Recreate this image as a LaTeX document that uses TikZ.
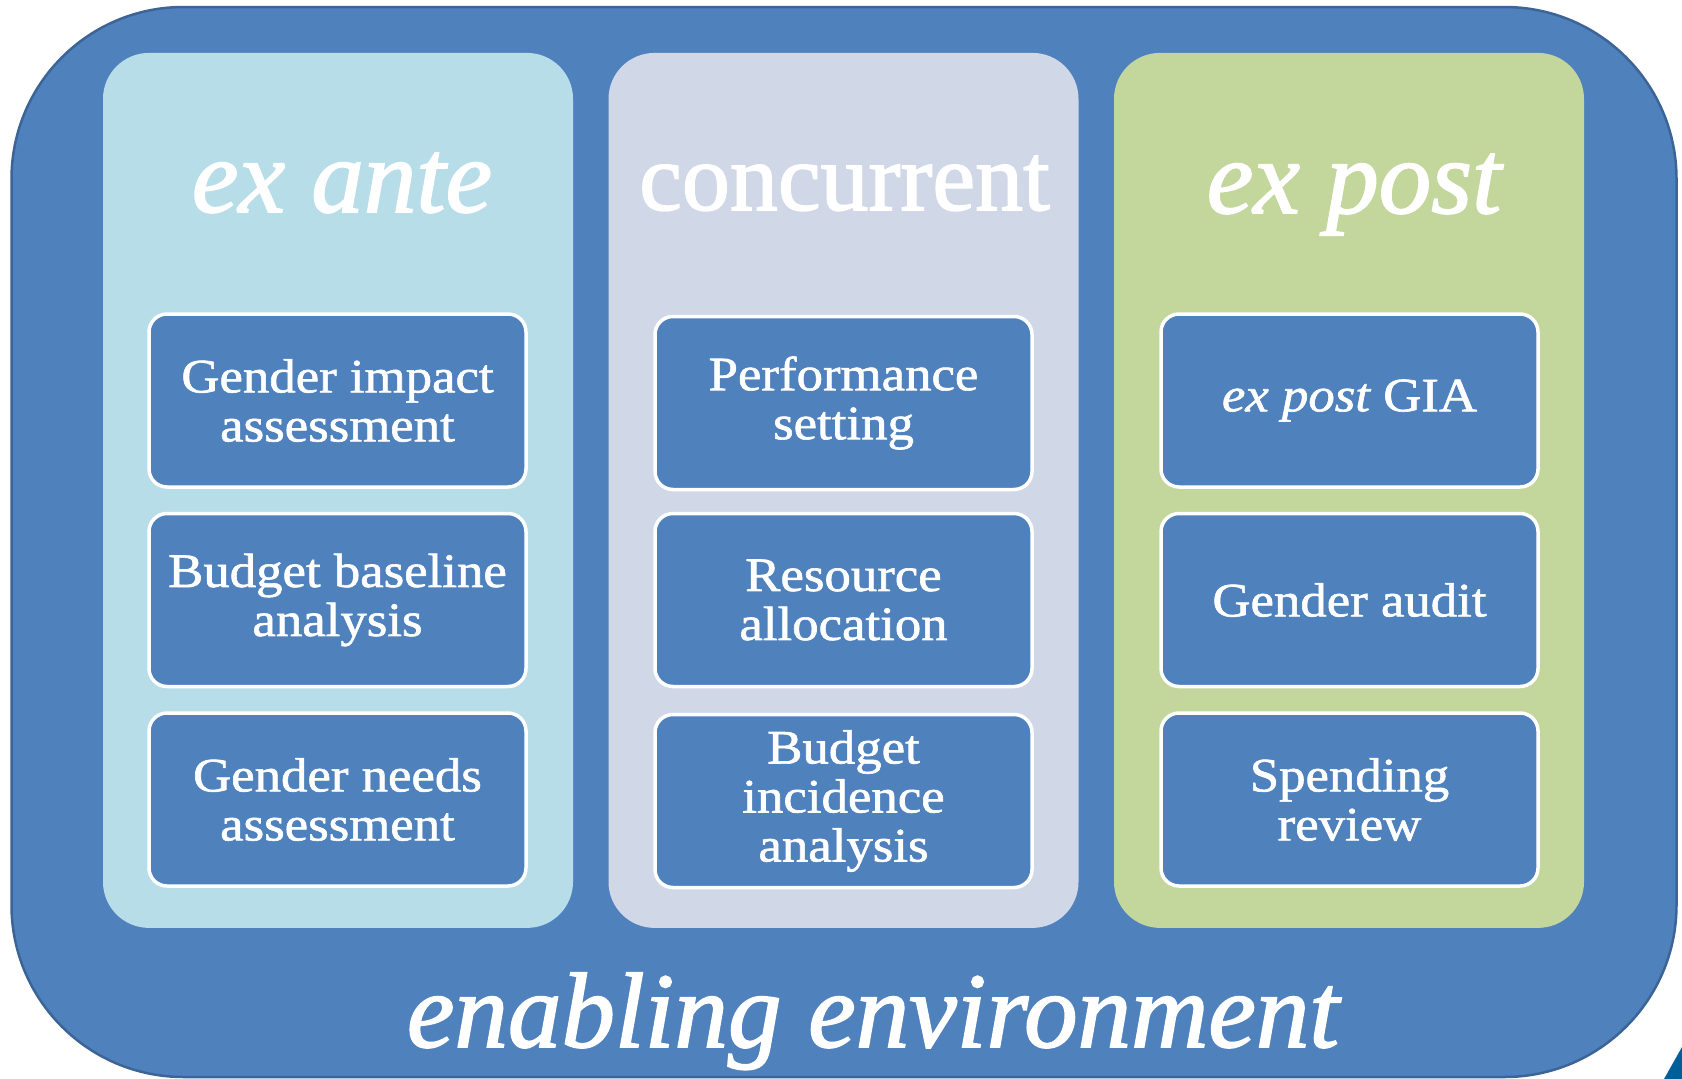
\documentclass[tikz,border=0pt]{standalone}
\usepackage{fontspec}
\setmainfont{Liberation Serif}
\newfontfamily\boxfont{Liberation Serif}[FakeStretch=1.1,FakeBold=1.3]
\newfontfamily\titlefont{Liberation Serif}[FakeBold=1.6]
\definecolor{mainblue}{HTML}{4F81BD}
\definecolor{outerline}{HTML}{3C6496}
\definecolor{antecol}{HTML}{B7DDE8}
\definecolor{concol}{HTML}{D0D8E8}
\definecolor{postcol}{HTML}{C3D69B}
\definecolor{tealc}{HTML}{005F99}
\begin{document}
\begin{tikzpicture}[x=1pt,y=-1pt,
  outerbox/.style={rectangle, draw=outerline, line width=2.5pt, fill=mainblue, rounded corners=172pt, inner sep=0pt, minimum width=1665pt, minimum height=1070pt},
  panel/.style={rectangle, rounded corners=46pt, minimum width=470pt, minimum height=875pt, inner sep=0pt},
  gbox/.style={rectangle, draw=white, line width=3.5pt, fill=mainblue, rounded corners=18pt, minimum width=377pt, minimum height=173pt, inner sep=0pt, text=white, align=center, font=\boxfont\fontsize{48pt}{49pt}\selectfont},
  ttl/.style={text=white, anchor=base, inner sep=0pt},
  itl/.style={ttl, font=\titlefont\itshape\fontsize{105pt}{105pt}\selectfont},
  upl/.style={ttl, font=\titlefont\fontsize{96pt}{96pt}\selectfont}
]
\useasboundingbox (0,0) rectangle (1682,1079);
\fill[tealc] (1664,1079) -- (1682,1047) -- (1682,1079) -- cycle;
\node[outerbox] (env) at (844,542) {};
% panels
\node[panel, fill=antecol] (p1) at (338,490.4) {};
\node[panel, fill=concol] (p2) at (843.5,490.4) {};
\node[panel, fill=postcol] (p3) at (1349,490.4) {};
% titles
\node[itl] (t1) at (342,212) {ex ante};
\node[upl] (t2) at (844.5,210) {concurrent};
\node[itl] (t3) at (1354,213) {ex post};
% boxes column 1
\node[gbox] (a1) at (337.5,400.5) {Gender impact\\assessment};
\node[gbox] (a2) at (337.5,600) {Budget baseline\\analysis};
\node[gbox] (a3) at (337.5,799.5) {Gender needs\\assessment};
% boxes column 2
\node[gbox] (b1) at (843.5,403) {Performance\\setting};
\node[gbox] (b2) at (843.5,600) {Resource\\allocation};
\node[gbox] (b3) at (843.5,801) {Budget\\incidence\\analysis};
% boxes column 3
\node[gbox] (c1) at (1349.5,400.5) {\itshape ex post\upshape{} GIA};
\node[gbox] (c2) at (1349.5,600) {Gender audit};
\node[gbox] (c3) at (1349.5,799.5) {Spending\\review};
% bottom label
\node[ttl, font=\titlefont\itshape\fontsize{107pt}{107pt}\selectfont] (t4) at (873,1047) {enabling environment};
\end{tikzpicture}
\end{document}
